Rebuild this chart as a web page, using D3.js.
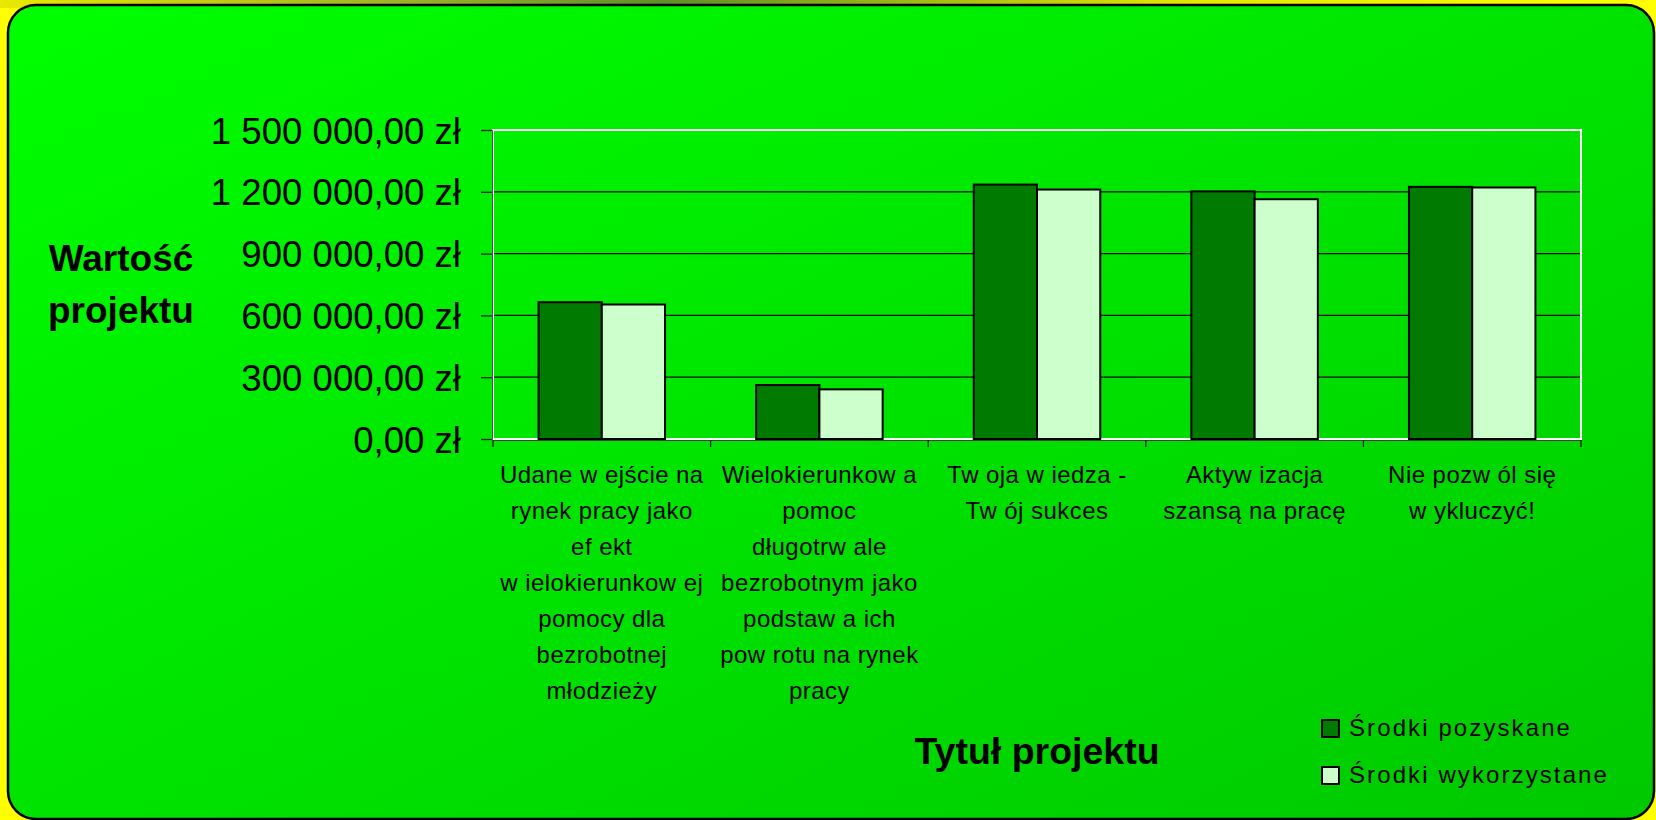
<!DOCTYPE html>
<html>
<head>
<meta charset="utf-8">
<script src="https://cdnjs.cloudflare.com/ajax/libs/d3/7.8.5/d3.min.js"></script>
<style>
  body { margin: 0; overflow: hidden; background: #ffff00; }
  text { font-family: "Liberation Sans", Arial, sans-serif; fill: #000; }
</style>
</head>
<body>
<div id="chartContainer"></div>
<script>
// data
var categories = ["Udane wejście", "Wielokierunkowa pomoc", "Twoja wiedza", "Aktywizacja", "Nie pozwól się wykluczyć"];
var categoryLines = [
    ["Udane w ejście na", "rynek pracy jako", "ef ekt", "w ielokierunkow ej", "pomocy dla", "bezrobotnej", "młodzieży"],
    ["Wielokierunkow a", "pomoc", "długotrw ale", "bezrobotnym jako", "podstaw a ich", "pow rotu na rynek", "pracy"],
    ["Tw oja w iedza -", "Tw ój sukces"],
    ["Aktyw izacja", "szansą na pracę"],
    ["Nie pozw ól się", "w ykluczyć!"]
];
var seriesNames = ["Środki pozyskane", "Środki wykorzystane"];
var pozyskane = [664000, 262000, 1235000, 1202000, 1224000];
var wykorzystane = [653000, 241000, 1211000, 1164000, 1221000];
var yTicks = [0, 300000, 600000, 900000, 1200000, 1500000];
var yTickLabels = ["0,00 zł", "300 000,00 zł", "600 000,00 zł", "900 000,00 zł", "1 200 000,00 zł", "1 500 000,00 zł"];
var yTitleLines = ["Wartość", "projektu"];
var xTitle = "Tytuł projektu";

var attrs = {
    width: 1656,
    height: 820,
    plot: { left: 493, right: 1581, top: 130, bottom: 439 },
    colors: ["#007a00", "#ccffcc"]
};

var svg = d3.select("#chartContainer")
    .append("svg")
    .attr("width", attrs.width)
    .attr("height", attrs.height);

var defs = svg.append("defs");
var panelGrad = defs.append("linearGradient")
    .attr("id", "panelGrad")
    .attr("x1", 0).attr("y1", 0).attr("x2", 1).attr("y2", 1);
panelGrad.append("stop").attr("offset", 0).attr("stop-color", "#00ff00");
panelGrad.append("stop").attr("offset", 1).attr("stop-color", "#00c800");

var stripGrad = defs.append("linearGradient")
    .attr("id", "stripGrad")
    .attr("x1", 0).attr("y1", 0).attr("x2", 1).attr("y2", 0);
[[0, "#e8e800"], [0.25, "#9ab02a"], [0.4, "#5f8f2a"], [0.72, "#e6e600"], [1, "#ffff00"]].forEach(function (s) {
    stripGrad.append("stop").attr("offset", s[0]).attr("stop-color", s[1]);
});

// background
svg.append("rect")
    .attr("width", attrs.width).attr("height", attrs.height)
    .attr("fill", "#ffff00");
svg.append("rect")
    .attr("width", attrs.width).attr("height", 8)
    .attr("fill", "url(#stripGrad)");
svg.append("rect")
    .attr("x", 8).attr("y", 5)
    .attr("width", 1646).attr("height", 814)
    .attr("rx", 28).attr("ry", 28)
    .attr("fill", "url(#panelGrad)")
    .attr("stroke", "#000")
    .attr("stroke-width", 2.5);

// scales
var x0 = d3.scaleBand()
    .domain(categories)
    .range([attrs.plot.left, attrs.plot.right])
    .padding(0);
var x1 = d3.scaleBand()
    .domain(seriesNames)
    .range([0, x0.bandwidth()])
    .paddingInner(0)
    .paddingOuter(0.72);
var y = d3.scaleLinear()
    .domain([0, 1500000])
    .range([attrs.plot.bottom, attrs.plot.top]);

var chartLayer = svg.append("g").classed("chartLayer", true);

// gridlines
chartLayer.selectAll(".grid")
    .data(yTicks.slice(1, yTicks.length - 1))
    .enter()
    .append("line")
    .attr("class", "grid")
    .attr("x1", attrs.plot.left).attr("x2", attrs.plot.right)
    .attr("y1", function (d) { return y(d); })
    .attr("y2", function (d) { return y(d); })
    .attr("stroke", "#0a0a0a")
    .attr("stroke-width", 1.3);

// plot area border
chartLayer.append("rect")
    .attr("x", attrs.plot.left).attr("y", attrs.plot.top)
    .attr("width", attrs.plot.right - attrs.plot.left)
    .attr("height", attrs.plot.bottom - attrs.plot.top)
    .attr("fill", "none")
    .attr("stroke", "#ffffff")
    .attr("stroke-width", 2);

// bars
var rows = categories.map(function (c, i) {
    return { cat: c, values: [pozyskane[i], wykorzystane[i]] };
});
var groups = chartLayer.selectAll(".group")
    .data(rows)
    .enter()
    .append("g")
    .attr("class", "group")
    .attr("transform", function (d) { return "translate(" + x0(d.cat) + ",0)"; });
groups.selectAll("rect")
    .data(function (d) { return d.values.map(function (v, j) { return { name: seriesNames[j], value: v, idx: j }; }); })
    .enter()
    .append("rect")
    .attr("x", function (d) { return x1(d.name); })
    .attr("y", function (d) { return y(d.value); })
    .attr("width", x1.bandwidth())
    .attr("height", function (d) { return y(0) - y(d.value); })
    .attr("fill", function (d) { return attrs.colors[d.idx]; })
    .attr("stroke", "#000")
    .attr("stroke-width", 2);

// y axis
var yAxis = d3.axisLeft(y)
    .tickValues(yTicks)
    .tickSize(11)
    .tickPadding(20)
    .tickFormat(function (d, i) { return yTickLabels[i]; });
var yG = chartLayer.append("g")
    .attr("transform", "translate(" + (attrs.plot.left - 1) + ",0)")
    .call(yAxis);
yG.select(".domain").attr("stroke", "#505050").attr("stroke-width", 1);
yG.selectAll(".tick line").attr("stroke", "#202020").attr("stroke-width", 1.3);
yG.selectAll(".tick text")
    .style("font-family", "'Liberation Sans', Arial, sans-serif")
    .style("font-size", "36.6px")
    .attr("dy", "0.36em")
    .attr("fill", "#000");

// x axis
var xAxis = d3.axisBottom(x0)
    .tickValues([])
    .tickSizeOuter(0);
var xG = chartLayer.append("g")
    .attr("transform", "translate(0," + (attrs.plot.bottom + 1) + ")")
    .call(xAxis);
xG.select(".domain").attr("stroke", "#404040").attr("stroke-width", 1);
xG.selectAll(".xtick")
    .data(categories.concat(["end"]))
    .enter()
    .append("line")
    .attr("class", "xtick")
    .attr("x1", function (d) { return d === "end" ? attrs.plot.right : x0(d); })
    .attr("x2", function (d) { return d === "end" ? attrs.plot.right : x0(d); })
    .attr("y1", 0).attr("y2", 7)
    .attr("stroke", "#202020")
    .attr("stroke-width", 1.3);

// category labels
var catLabel = chartLayer.selectAll(".catLabel")
    .data(categories)
    .enter()
    .append("text")
    .attr("class", "catLabel")
    .attr("text-anchor", "middle")
    .style("font-size", "24px")
    .style("letter-spacing", "0.45px");
catLabel.selectAll("tspan")
    .data(function (d, i) { return categoryLines[i]; })
    .enter()
    .append("tspan")
    .attr("x", function () { return x0(d3.select(this.parentNode).datum()) + x0.bandwidth() / 2; })
    .attr("y", function (d, i) { return 483 + i * 36; })
    .text(function (d) { return d; });

// axis titles
chartLayer.append("text")
    .attr("text-anchor", "middle")
    .style("font-size", "37px")
    .style("font-weight", "bold")
    .selectAll("tspan")
    .data(yTitleLines)
    .enter()
    .append("tspan")
    .attr("x", 121)
    .attr("y", function (d, i) { return 271 + i * 52; })
    .text(function (d) { return d; });

chartLayer.append("text")
    .attr("x", (attrs.plot.left + attrs.plot.right) / 2)
    .attr("y", 764)
    .attr("text-anchor", "middle")
    .style("font-size", "37.5px")
    .style("font-weight", "bold")
    .text(xTitle);

// legend
var legend = chartLayer.selectAll(".legendItem")
    .data(seriesNames)
    .enter()
    .append("g")
    .attr("class", "legendItem")
    .attr("transform", function (d, i) { return "translate(1322," + (720 + i * 47) + ")"; });
legend.append("rect")
    .attr("width", 17).attr("height", 17)
    .attr("fill", function (d, i) { return attrs.colors[i]; })
    .attr("stroke", "#000")
    .attr("stroke-width", 2);
legend.append("text")
    .attr("x", 27).attr("y", 16)
    .style("font-size", "24px")
    .style("letter-spacing", "2.1px")
    .text(function (d) { return d; });
</script>
</body>
</html>
